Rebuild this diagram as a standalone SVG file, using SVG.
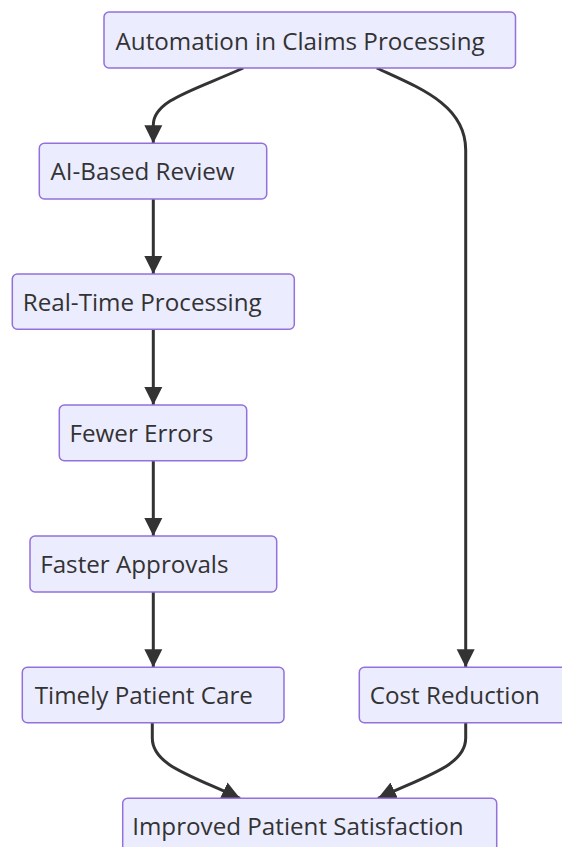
<svg xmlns="http://www.w3.org/2000/svg" width="562" height="847" viewBox="0 0 562 847">
  <style>
    .node rect { fill: #ECECFF; stroke: #9370DB; stroke-width: 1.5; }
    .node text { font-family: "Open Sans", "Liberation Sans", sans-serif; font-size: 24.2px; fill: #333333; }
    .edge { fill: none; stroke: #333333; stroke-width: 3; marker-end: url(#arrow); }
  </style>
  <defs>
    <marker id="arrow" viewBox="0 0 10 10" refX="10" refY="5" markerUnits="userSpaceOnUse" markerWidth="18" markerHeight="19" orient="auto">
      <path d="M0,0 L10,5 L0,10 z" fill="#333333"/>
    </marker>
  </defs>

  <g id="connectors">
    <path class="edge" d="M243.3,68 C195,90 153.3,100 153.3,125 L153.3,143.3"/>
    <path class="edge" d="M376.7,68 C420,88 465.7,105 465.7,150 L465.7,667.3"/>
    <path class="edge" d="M153.3,199 L153.3,274"/>
    <path class="edge" d="M153.3,329.3 L153.3,405"/>
    <path class="edge" d="M153.3,460.7 L153.3,536"/>
    <path class="edge" d="M153.3,592 L153.3,667.3"/>
    <path class="edge" d="M152.3,722.7 L152.3,738 C152.3,765 190,775 240,798.3"/>
    <path class="edge" d="M465.7,722.7 L465.7,738 C465.7,765 428,775 378,798.3"/>
  </g>

  <g id="automation" class="node">
    <rect x="104" y="12" width="411.5" height="56" rx="5"/>
    <text x="115.5" y="49.5">Automation in Claims Processing</text>
  </g>
  <g id="ai-review" class="node">
    <rect x="39.3" y="143.3" width="227.4" height="55.7" rx="5"/>
    <text x="50.5" y="180.3">AI-Based Review</text>
  </g>
  <g id="real-time" class="node">
    <rect x="12.3" y="274" width="282" height="55.3" rx="5"/>
    <text x="22.8" y="311">Real-Time Processing</text>
  </g>
  <g id="fewer-errors" class="node">
    <rect x="59.3" y="405" width="187.4" height="55.7" rx="5"/>
    <text x="69.5" y="442">Fewer Errors</text>
  </g>
  <g id="faster-approvals" class="node">
    <rect x="30" y="536" width="246.7" height="56" rx="5"/>
    <text x="40.2" y="573">Faster Approvals</text>
  </g>
  <g id="timely-care" class="node">
    <rect x="22.3" y="667.3" width="261.7" height="55.4" rx="5"/>
    <text x="34.8" y="704">Timely Patient Care</text>
  </g>
  <g id="cost-reduction" class="node">
    <rect x="359.3" y="667.3" width="212.7" height="55.4" rx="5"/>
    <text x="369.8" y="704">Cost Reduction</text>
  </g>
  <g id="patient-satisfaction" class="node">
    <rect x="122.7" y="798.3" width="374" height="56" rx="5"/>
    <text x="132.2" y="835">Improved Patient Satisfaction</text>
  </g>
</svg>
